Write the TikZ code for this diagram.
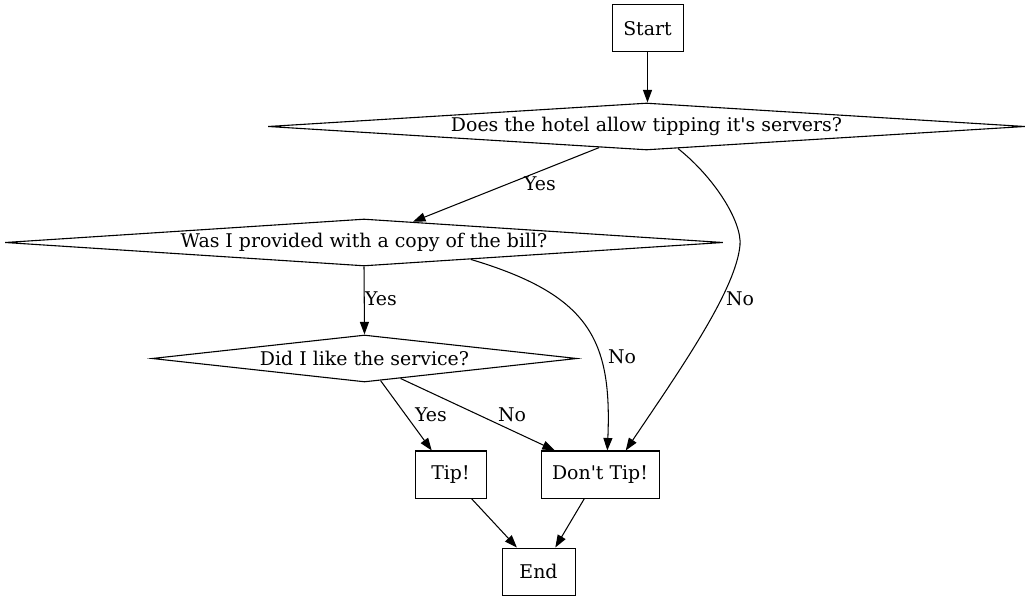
\documentclass[tikz,border=0pt]{standalone}
\usepackage{fontspec}
\setmainfont{DejaVu Serif}
\usetikzlibrary{shapes.geometric,arrows.meta}
\begin{document}
\begin{tikzpicture}[x=1pt,y=-1pt,
  every node/.style={font=\fontsize{18.9pt}{22pt}\selectfont},
  boxnode/.style={draw,line width=1pt,minimum height=47pt,inner sep=0pt},
  dianode/.style={draw,line width=1.1pt,diamond,aspect=16,inner xsep=0pt,inner ysep=-9pt,minimum height=47pt},
  edge/.style={line width=1.05pt,-{Triangle[length=12.5pt,width=9pt]}},
  lbl/.style={inner sep=1pt}]
\useasboundingbox (0,0) rectangle (1031,601);
\node[boxnode,minimum width=71pt] (start) at (647.5,28.5) {Start};
\node[dianode,minimum width=757pt] (d1) at (646.5,126.5) {Does the hotel allow tipping it\textquotesingle s servers?};
\node[dianode,minimum width=718pt] (d2) at (364,242.5) {Was I provided with a copy of the bill?};
\node[dianode,minimum width=425pt] (d3) at (364.5,358.5) {Did I like the service?};
\node[boxnode,minimum width=71pt] (tip) at (450.5,474.5) {Tip!};
\node[boxnode,minimum width=118pt] (dt) at (600,474.5) {Don\textquotesingle t Tip!};
\node[boxnode,minimum width=73pt] (end) at (538.5,571.5) {End};

\draw[edge] (start.south) -- (start.south |- d1.north);
\draw[edge] (d1.204) -- (d2.23);
\node[lbl] (lyes1) at (540,184) {Yes};
\draw[edge] (d1.325) .. controls (715,178) and (742,222) .. (740,245)
  .. controls (736,290) and (680,370) .. (dt.43);
\node[lbl] (lno1) at (740,299) {No};
\draw[edge] (d2.south) -- (d3.north);
\node[lbl] (lyes2) at (381,299) {Yes};
\draw[edge] (d2.351) .. controls (590,295) and (612,340) .. (dt.73);
\node[lbl] (lno2) at (622,357) {No};
\draw[edge] (d3.306) -- (tip.128);
\node[lbl] (lyes3) at (431,415) {Yes};
\draw[edge] (d3.331) -- (dt.152);
\node[lbl] (lno3) at (512,415) {No};
\draw[edge] (tip.311) -- (end.132);
\draw[edge] (dt.237) -- (end.55);
\end{tikzpicture}
\end{document}
